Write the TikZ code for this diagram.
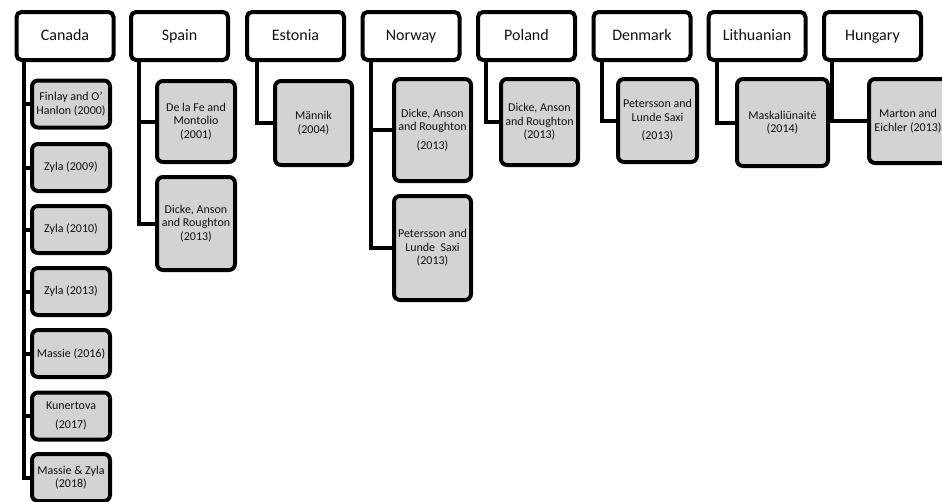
\documentclass[tikz,border=0pt]{standalone}
\usepackage{fontspec}
\setmainfont{Carlito}
\definecolor{boxgray}{HTML}{D3D3D3}
\definecolor{ink}{HTML}{111111}
\begin{document}
\begin{tikzpicture}[x=1pt,y=-1pt,
  hdr/.style={draw=black, line width=4pt, rounded corners=5pt, fill=white,
    text=ink, font=\fontsize{16}{19}\selectfont,
    text height=11.5pt, text depth=3.5pt,
    minimum width=97pt, minimum height=48pt, inner sep=0pt},
  item/.style={draw=black, line width=4pt, rounded corners=6pt, fill=boxgray,
    text=ink, font=\fontsize{12}{13.5}\selectfont, align=center, inner sep=0pt},
  link/.style={draw=black, line width=4pt, line join=miter}]
\clip (0,0) rectangle (942,501);
\fill[white] (0,0) rectangle (942,501);

% country headers
\node[hdr] (ca) at (65,36)    {Canada};
\node[hdr] (es) at (179.5,36) {Spain};
\node[hdr] (ee) at (295.5,36) {Estonia};
\node[hdr] (no) at (411,36)   {Norway};
\node[hdr] (pl) at (526.5,36) {Poland};
\node[hdr] (dk) at (642,36)   {Denmark};
\node[hdr] (lt) at (757,36)   {Lithuanian};
\node[hdr] (hu) at (872.5,36) {Hungary};

% trunk positions
\coordinate (ca-t) at (24,0);
\coordinate (es-t) at (139,0);
\coordinate (ee-t) at (257,0);
\coordinate (no-t) at (371,0);
\coordinate (pl-t) at (486,0);
\coordinate (dk-t) at (602,0);
\coordinate (lt-t) at (717,0);
\coordinate (hu-t) at (832,0);

% Canada
\begin{scope}[every node/.append style={minimum width=78pt, minimum height=47pt}]
\node[item] (ca1) at (71,104)   {Finlay and O’\\Hanlon (2000)};
\node[item] (ca2) at (71,167.5) {Zyla (2009)};
\node[item] (ca3) at (71,229.5) {Zyla (2010)};
\node[item] (ca4) at (71,291.5) {Zyla (2013)};
\node[item] (ca5) at (71,353.5) {Massie (2016)};
\node[item] (ca6) at (71,416)   {Kunertova\\[5pt](2017)};
\node[item] (ca7) at (71,477.5) {Massie \& Zyla\\(2018)};
\end{scope}

% Spain
\node[item, minimum width=78pt, minimum height=81pt] (es1) at (196,121.5) {De la Fe and\\Montolio\\(2001)};
\node[item, minimum width=78pt, minimum height=93pt] (es2) at (196,223.5) {Dicke, Anson\\and Roughton\\(2013)};

% Estonia
\node[item, minimum width=77pt, minimum height=84pt] (ee1) at (313.5,123) {Männik\\(2004)};

% Norway
\node[item, minimum width=77pt, minimum height=102pt] (no1) at (432.5,130) {Dicke, Anson\\and Roughton\\[5pt](2013)};
\node[item, minimum width=77pt, minimum height=104pt] (no2) at (432.5,248) {Petersson and\\Lunde\hspace{0.45em}Saxi\\(2013)};

% Poland
\node[item, minimum width=77pt, minimum height=86pt] (pl1) at (539.5,122) {Dicke, Anson\\and Roughton\\(2013)};

% Denmark
\node[item, minimum width=79pt, minimum height=83pt] (dk1) at (657.5,120.5) {Petersson and\\Lunde Saxi\\[5pt](2013)};

% Lithuanian
\node[item, minimum width=91pt, minimum height=87pt] (lt1) at (782.5,122.5) {Maskaliūnaitė\\(2014)};

% Hungary
\node[item, minimum width=78pt, minimum height=84pt] (hu1) at (908,121) {Marton and\\Eichler (2013)};

% connectors
\foreach \c in {ca1,ca2,ca3,ca4,ca5,ca6,ca7}
  \draw[link] (ca.south -| ca-t) |- (\c.west);
\foreach \c in {es1,es2}
  \draw[link] (es.south -| es-t) |- (\c.west);
\draw[link] (ee.south -| ee-t) |- (ee1.west);
\foreach \c in {no1,no2}
  \draw[link] (no.south -| no-t) |- (\c.west);
\draw[link] (pl.south -| pl-t) |- (pl1.west);
\draw[link] (dk.south -| dk-t) |- (dk1.west);
\draw[link] (lt.south -| lt-t) |- (lt1.west);
\draw[link] (hu.south -| hu-t) |- (hu1.west);
\end{tikzpicture}
\end{document}
